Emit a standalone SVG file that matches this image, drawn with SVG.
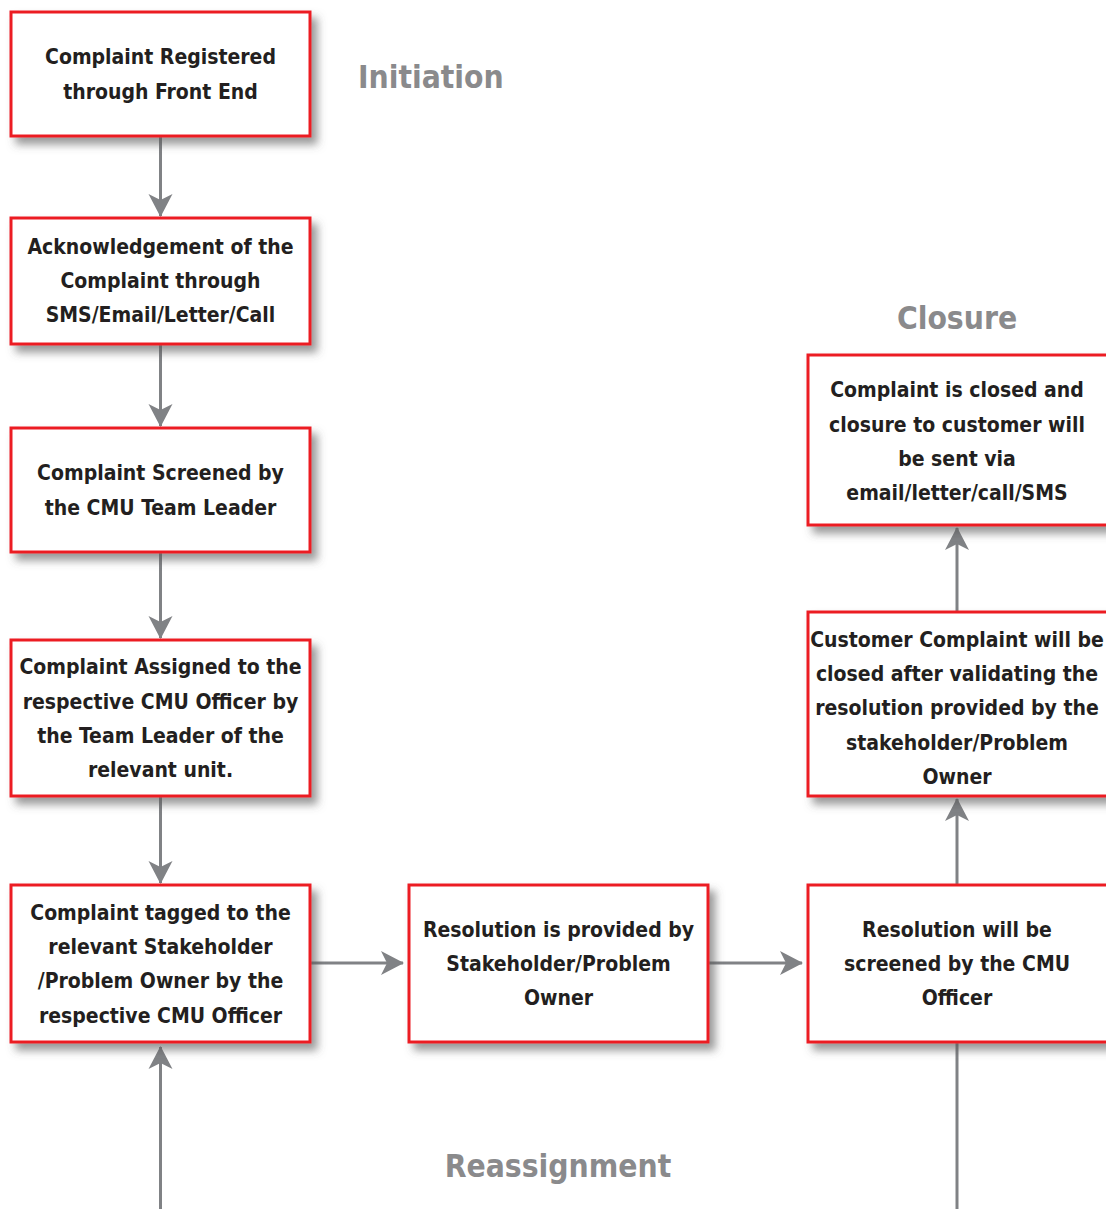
<svg xmlns="http://www.w3.org/2000/svg" width="1106" height="1209" viewBox="0 0 1106 1209">
  <style>
    .box { fill: #ffffff; stroke: #ec1c24; stroke-width: 3; filter: url(#shadow); }
    .txt { font-family: "DejaVu Sans Condensed", "Liberation Sans", sans-serif; font-weight: bold; font-size: 21px; fill: #231f20; text-anchor: middle; }
    .head { font-family: "DejaVu Sans Condensed", "Liberation Sans", sans-serif; font-weight: bold; font-size: 31.5px; fill: #8a8a8c; }
    .conn { stroke: #808285; stroke-width: 3; fill: none; }
  </style>
  <defs>
    <filter id="shadow" x="-10%" y="-10%" width="130%" height="140%">
      <feDropShadow dx="6" dy="7" stdDeviation="4" flood-color="#555555" flood-opacity="0.6"/>
    </filter>
    <marker id="arrow" markerUnits="userSpaceOnUse" markerWidth="24" markerHeight="26" viewBox="0 0 24 26" refX="22" refY="13" orient="auto">
      <path d="M0,1 L23,13 L0,25 L6,13 z" fill="#808285"/>
    </marker>
  </defs>

  <rect width="1106" height="1209" fill="#ffffff"/>

  <!-- phase headings -->
  <text class="head" x="358" y="88">Initiation</text>
  <text class="head" x="957" y="329" text-anchor="middle">Closure</text>
  <text class="head" x="558" y="1177" text-anchor="middle">Reassignment</text>

  <!-- connectors -->
  <g id="connectors">
    <line class="conn" x1="160.5" y1="137" x2="160.5" y2="216" marker-end="url(#arrow)"/>
    <line class="conn" x1="160.5" y1="345" x2="160.5" y2="426" marker-end="url(#arrow)"/>
    <line class="conn" x1="160.5" y1="553" x2="160.5" y2="638" marker-end="url(#arrow)"/>
    <line class="conn" x1="160.5" y1="797" x2="160.5" y2="883" marker-end="url(#arrow)"/>
    <line class="conn" x1="311" y1="963" x2="403" y2="963" marker-end="url(#arrow)"/>
    <line class="conn" x1="709" y1="963" x2="802" y2="963" marker-end="url(#arrow)"/>
    <line class="conn" x1="957" y1="884" x2="957" y2="799" marker-end="url(#arrow)"/>
    <line class="conn" x1="957" y1="611" x2="957" y2="528" marker-end="url(#arrow)"/>
    <line class="conn" x1="160.5" y1="1209" x2="160.5" y2="1047" marker-end="url(#arrow)"/>
    <line class="conn" x1="957" y1="1043" x2="957" y2="1209"/>
  </g>

  <g id="registered">
    <rect class="box" x="11" y="12" width="299" height="124"/>
    <text class="txt" x="160.5" y="64">Complaint Registered</text>
    <text class="txt" x="160.5" y="99">through Front End</text>
  </g>

  <g id="acknowledgement">
    <rect class="box" x="11" y="218" width="299" height="126"/>
    <text class="txt" x="160.5" y="254">Acknowledgement of the</text>
    <text class="txt" x="160.5" y="288">Complaint through</text>
    <text class="txt" x="160.5" y="322">SMS/Email/Letter/Call</text>
  </g>

  <g id="screened">
    <rect class="box" x="11" y="428" width="299" height="124"/>
    <text class="txt" x="160.5" y="480">Complaint Screened by</text>
    <text class="txt" x="160.5" y="515">the CMU Team Leader</text>
  </g>

  <g id="assigned">
    <rect class="box" x="11" y="640" width="299" height="156"/>
    <text class="txt" x="160.5" y="674">Complaint Assigned to the</text>
    <text class="txt" x="160.5" y="709">respective CMU Officer by</text>
    <text class="txt" x="160.5" y="743">the Team Leader of the</text>
    <text class="txt" x="160.5" y="777">relevant unit.</text>
  </g>

  <g id="tagged">
    <rect class="box" x="11" y="885" width="299" height="157"/>
    <text class="txt" x="160.5" y="920">Complaint tagged to the</text>
    <text class="txt" x="160.5" y="954">relevant Stakeholder</text>
    <text class="txt" x="160.5" y="988">/Problem Owner by the</text>
    <text class="txt" x="160.5" y="1023">respective CMU Officer</text>
  </g>

  <g id="resolution-provided">
    <rect class="box" x="409" y="885" width="299" height="157"/>
    <text class="txt" x="558.5" y="937">Resolution is provided by</text>
    <text class="txt" x="558.5" y="971">Stakeholder/Problem</text>
    <text class="txt" x="558.5" y="1005">Owner</text>
  </g>

  <g id="resolution-screened">
    <rect class="box" x="808" y="885" width="300" height="157"/>
    <text class="txt" x="957" y="937">Resolution will be</text>
    <text class="txt" x="957" y="971">screened by the CMU</text>
    <text class="txt" x="957" y="1005">Officer</text>
  </g>

  <g id="validated">
    <rect class="box" x="808" y="612" width="300" height="184"/>
    <text class="txt" x="957" y="647">Customer Complaint will be</text>
    <text class="txt" x="957" y="681">closed after validating the</text>
    <text class="txt" x="957" y="715">resolution provided by the</text>
    <text class="txt" x="957" y="750">stakeholder/Problem</text>
    <text class="txt" x="957" y="784">Owner</text>
  </g>

  <g id="closed">
    <rect class="box" x="808" y="355" width="300" height="170"/>
    <text class="txt" x="957" y="397">Complaint is closed and</text>
    <text class="txt" x="957" y="432">closure to customer will</text>
    <text class="txt" x="957" y="466">be sent via</text>
    <text class="txt" x="957" y="500">email/letter/call/SMS</text>
  </g>
</svg>
